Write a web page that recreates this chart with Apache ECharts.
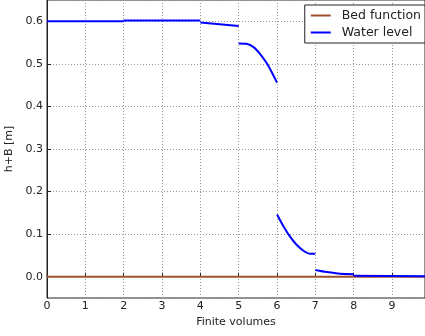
<!DOCTYPE html>
<html>
<head>
<meta charset="utf-8">
<script src="https://cdn.jsdelivr.net/npm/echarts@6/dist/echarts.min.js"></script>
<style>
  html, body { margin: 0; padding: 0; background: #fff; }
  #chart { width: 425px; height: 336px; }
</style>
</head>
<body>
<div id="chart"></div>
<script>
// Bed elevation across the domain
const bedX = [0, 9.86];
const bedY = [0, 0];

// Water level per finite volume (h + B), one piece per cell group
const waterX1 = [0, 2];
const waterY1 = [0.600, 0.600];
const waterX2 = [2, 4];
const waterY2 = [0.602, 0.602];
const waterX3 = [4, 5];
const waterY3 = [0.597, 0.589];
const waterX4 = [5, 5.2, 5.38, 5.55, 5.72, 5.86, 6];
const waterY4 = [0.548, 0.547, 0.540, 0.524, 0.503, 0.481, 0.456];
const waterX5 = [6, 6.17, 6.34, 6.51, 6.69, 6.86, 7];
const waterY5 = [0.146, 0.118, 0.094, 0.075, 0.061, 0.054, 0.054];
const waterX6 = [7, 7.3, 7.65, 8];
const waterY6 = [0.016, 0.011, 0.007, 0.006];
const waterX7 = [8, 9.86];
const waterY7 = [0.002, 0.001];

const xTicks = [0, 1, 2, 3, 4, 5, 6, 7, 8, 9];
const yTicks = [0.0, 0.1, 0.2, 0.3, 0.4, 0.5, 0.6];

const waterPieces = [
  [waterX1, waterY1], [waterX2, waterY2], [waterX3, waterY3],
  [waterX4, waterY4], [waterX5, waterY5], [waterX6, waterY6], [waterX7, waterY7]
];

// join the pieces, with a gap point between each so the line breaks
const waterData = [];
waterPieces.forEach(([xs, ys], k) => {
  if (k > 0) waterData.push([xs[0], '-']);
  xs.forEach((x, i) => waterData.push([x, ys[i]]));
});
const bedData = bedX.map((x, i) => [x, bedY[i]]);

const FONT = 'DejaVu Sans';
const GRID = { color: '#999', type: [1, 2], width: 1 };
const chart = echarts.init(document.getElementById('chart'), null, { renderer: 'canvas' });

chart.setOption({
  animation: false,
  backgroundColor: '#fff',
  textStyle: { fontFamily: FONT },
  grid: { left: 47, right: 0, top: 0, bottom: 38, containLabel: false,
          outerBoundsMode: 'none',
          show: true, borderColor: '#222', borderWidth: 1 },
  legend: {
    right: 0, top: 5, orient: 'vertical',
    backgroundColor: '#fff', borderColor: '#222', borderWidth: 1,
    padding: [4, 4, 4, 6], itemGap: 4,
    itemWidth: 20, itemHeight: 2, icon: 'rect',
    textStyle: { fontFamily: FONT, fontSize: 12.5, color: '#222', padding: [0, 0, 0, 6] },
    data: ['Bed function', 'Water level']
  },
  xAxis: {
    type: 'value', min: 0, max: 9.86, interval: 1,
    name: 'Finite volumes', nameLocation: 'middle', nameGap: 19,
    nameTextStyle: { fontFamily: FONT, fontSize: 11, color: '#222' },
    axisLine: { show: true, lineStyle: { color: '#222', width: 1 } },
    axisTick: { show: true, inside: true, length: 4, lineStyle: { color: '#222' } },
    axisLabel: {
      fontFamily: FONT, fontSize: 11, color: '#222', margin: 3,
      showMaxLabel: false,
      formatter: v => (xTicks.includes(Math.round(v * 100) / 100) ? String(v) : '')
    },
    splitLine: { show: true, lineStyle: GRID }
  },
  yAxis: {
    type: 'value', min: -0.05, max: 0.65, splitNumber: 7,
    name: 'h+B [m]', nameLocation: 'middle', nameGap: 27,
    nameTextStyle: { fontFamily: FONT, fontSize: 11, color: '#222' },
    axisLine: { show: true, lineStyle: { color: '#222', width: 1 } },
    axisTick: { show: true, inside: true, length: 4, lineStyle: { color: '#222' } },
    axisLabel: {
      fontFamily: FONT, fontSize: 11, color: '#222', margin: 4,
      showMinLabel: false, showMaxLabel: false,
      formatter: v => {
        const r = Math.round(v * 100) / 100;
        return yTicks.some(t => Math.abs(t - r) < 1e-9) ? r.toFixed(1) : '';
      }
    },
    splitLine: { show: true, lineStyle: GRID }
  },
  series: [
    {
      name: 'Bed function', type: 'line', data: bedData,
      showSymbol: false, symbol: 'none',
      lineStyle: { color: '#a0522d', width: 2 }, itemStyle: { color: '#a0522d' }
    },
    {
      name: 'Water level', type: 'line', data: waterData,
      showSymbol: false, symbol: 'none', connectNulls: false,
      smooth: 0.25,
      lineStyle: { color: '#0000ff', width: 2 }, itemStyle: { color: '#0000ff' }
    }
  ]
});
</script>
</body>
</html>
